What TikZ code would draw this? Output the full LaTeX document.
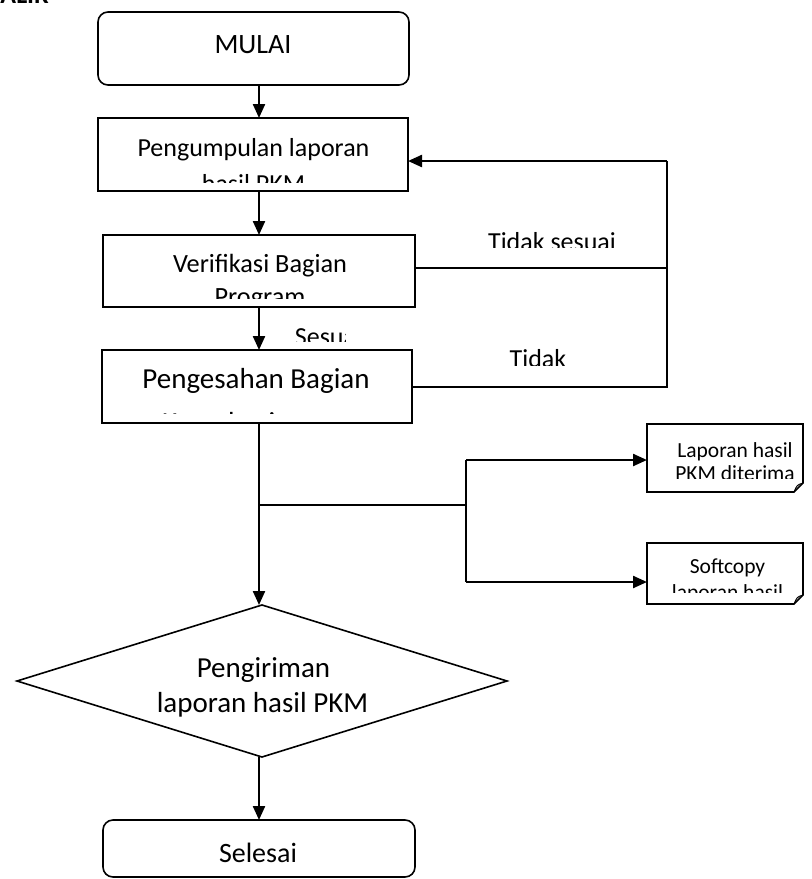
\documentclass[tikz,border=0pt]{standalone}
\usepackage{fontspec}
\setmainfont{Carlito}
\usetikzlibrary{arrows.meta,shapes.geometric}
\newcommand\szf[1]{\fontsize{#1}{#1}\selectfont}
\tikzset{
  boxline/.style={draw, line width=1.6pt},
  conn/.style={line width=2.3pt},
  arr/.style={conn, -{Triangle[length=14pt,width=12pt]}},
  lbl/.style={anchor=base, inner sep=0pt},
  blank/.style={inner sep=0pt, outer sep=0pt},
}
\begin{document}
\begin{tikzpicture}[x=1pt,y=-1pt]
\useasboundingbox (0,0) rectangle (812,879);
\fill[white] (0,0) rectangle (812,879);

% heading, running off the top edge
\node[anchor=base east, inner sep=0pt, font=\szf{26}\bfseries] (judul) at (49,3.5) {BAGAN ALIR};

% vertical spine of the main flow
\coordinate (sx) at (259,0);

% ---- process boxes ----
\node[boxline, rounded corners=10pt, minimum width=311pt, minimum height=73pt, blank] (mulai) at (253.5,48.5) {};
\node[boxline, minimum width=310pt, minimum height=73pt, blank] (kumpul) at (253,154.5) {};
\node[boxline, minimum width=312pt, minimum height=72pt, blank] (verif) at (259,271) {};
\node[boxline, minimum width=310pt, minimum height=73pt, blank] (sah) at (257,386.5) {};
\node[boxline, diamond, minimum width=490pt, minimum height=152pt, blank] (kirim) at (262,681) {};
\node[boxline, rounded corners=10pt, minimum width=312pt, minimum height=57pt, blank] (selesai) at (259,848.5) {};

% ---- document outputs (folded corner) ----
\node[minimum width=156pt, minimum height=68pt, blank] (doc1) at (725,458) {};
\node[minimum width=156pt, minimum height=61pt, blank] (doc2) at (725,573.5) {};
\foreach \d in {doc1,doc2}{
  \draw[boxline] (\d.north west) -- (\d.north east) -- ([yshift=9pt]\d.south east)
    -- ([xshift=-9pt]\d.south east) -- (\d.south west) -- cycle;
  \draw[line width=1pt] ([xshift=-9pt]\d.south east) .. controls ([xshift=-6pt,yshift=7pt]\d.south east) .. ([yshift=9pt]\d.south east);
}

% ---- texts ----
\node[lbl, font=\szf{28}] (tmulai) at (253,53) {MULAI};

\begin{scope}
  \clip (100,120) rectangle (406,182);
  \node[lbl, font=\szf{26}] (tkumpula) at (253.5,156) {Pengumpulan laporan};
  \node[lbl, font=\szf{26}] (tkumpulb) at (253.5,192) {hasil PKM};
\end{scope}

\begin{scope}
  \clip (105,237) rectangle (413,298);
  \node[lbl, font=\szf{26.3}] (tverifa) at (260,272) {Verifikasi Bagian};
  \node[lbl, font=\szf{26.3}] (tverifb) at (260,305) {Program};
\end{scope}

\begin{scope}
  \clip (104,352) rectangle (410,413.5);
  \node[lbl, font=\szf{29}] (tsaha) at (256,388) {Pengesahan Bagian};
  \node[lbl, font=\szf{29}] (tsahb) at (256,432.5) {Kemahasiswaan};
\end{scope}

\begin{scope}
  \clip (273,320) rectangle (345,341);
  \node[lbl, font=\szf{26}] (tsesuai) at (328.5,345) {Sesuai};
\end{scope}

\begin{scope}
  \clip (470,220) rectangle (640,247);
  \node[lbl, font=\szf{26}] (ttdksesuai) at (552,250) {Tidak sesuai};
\end{scope}

\begin{scope}
  \clip (470,335) rectangle (640,365);
  \node[lbl, font=\szf{26}] (ttdk) at (538,367) {Tidak};
\end{scope}

\begin{scope}
  \clip (649,426) rectangle (801,478);
  \node[lbl, font=\szf{21.5}] (tdoca) at (735,457) {Laporan hasil};
  \node[lbl, font=\szf{21.5}] (tdocb) at (735,480) {PKM diterima};
\end{scope}

\begin{scope}
  \clip (649,545) rectangle (801,592);
  \node[lbl, font=\szf{21.5}] (tdocc) at (727.5,573) {Softcopy};
  \node[lbl, font=\szf{21.5}] (tdocd) at (727.5,599) {laporan hasil};
\end{scope}

\node[lbl, font=\szf{29}] (tkirima) at (263.5,677) {Pengiriman};
\node[lbl, font=\szf{29}] (tkirimb) at (262.5,712) {laporan hasil PKM};
\node[lbl, font=\szf{28}] (tselesai) at (258,862) {Selesai};

% ---- main flow ----
\draw[arr] (mulai.south -| sx) -- (kumpul.north -| sx);
\draw[arr] (kumpul.south -| sx) -- (verif.north -| sx);
\draw[arr] (verif.south -| sx) -- (sah.north -| sx);
\draw[arr] (sah.south -| sx) -- (kirim.north -| sx);
\draw[arr] (kirim.south -| sx) -- (selesai.north -| sx);

% ---- return loop for rejected reports ----
\coordinate (loopt) at (667,161);
\coordinate (loopv) at (667,268);
\coordinate (loops) at (667,387);
\draw[conn] (verif.east |- loopv) -- (loopv);
\draw[conn] (sah.east |- loops) -- (loops) -- (loopt);
\draw[arr] (loopt) -- (kumpul.east |- loopt);

% ---- branch to the two outputs ----
\coordinate (jn) at (466,505);
\coordinate (brup) at (466,460);
\coordinate (brdn) at (466,582);
\draw[conn] (jn -| sx) -- (jn);
\draw[conn] (brup) -- (brdn);
\draw[arr] (brup) -- (doc1.west |- brup);
\draw[arr] (brdn) -- (doc2.west |- brdn);
\end{tikzpicture}
\end{document}
